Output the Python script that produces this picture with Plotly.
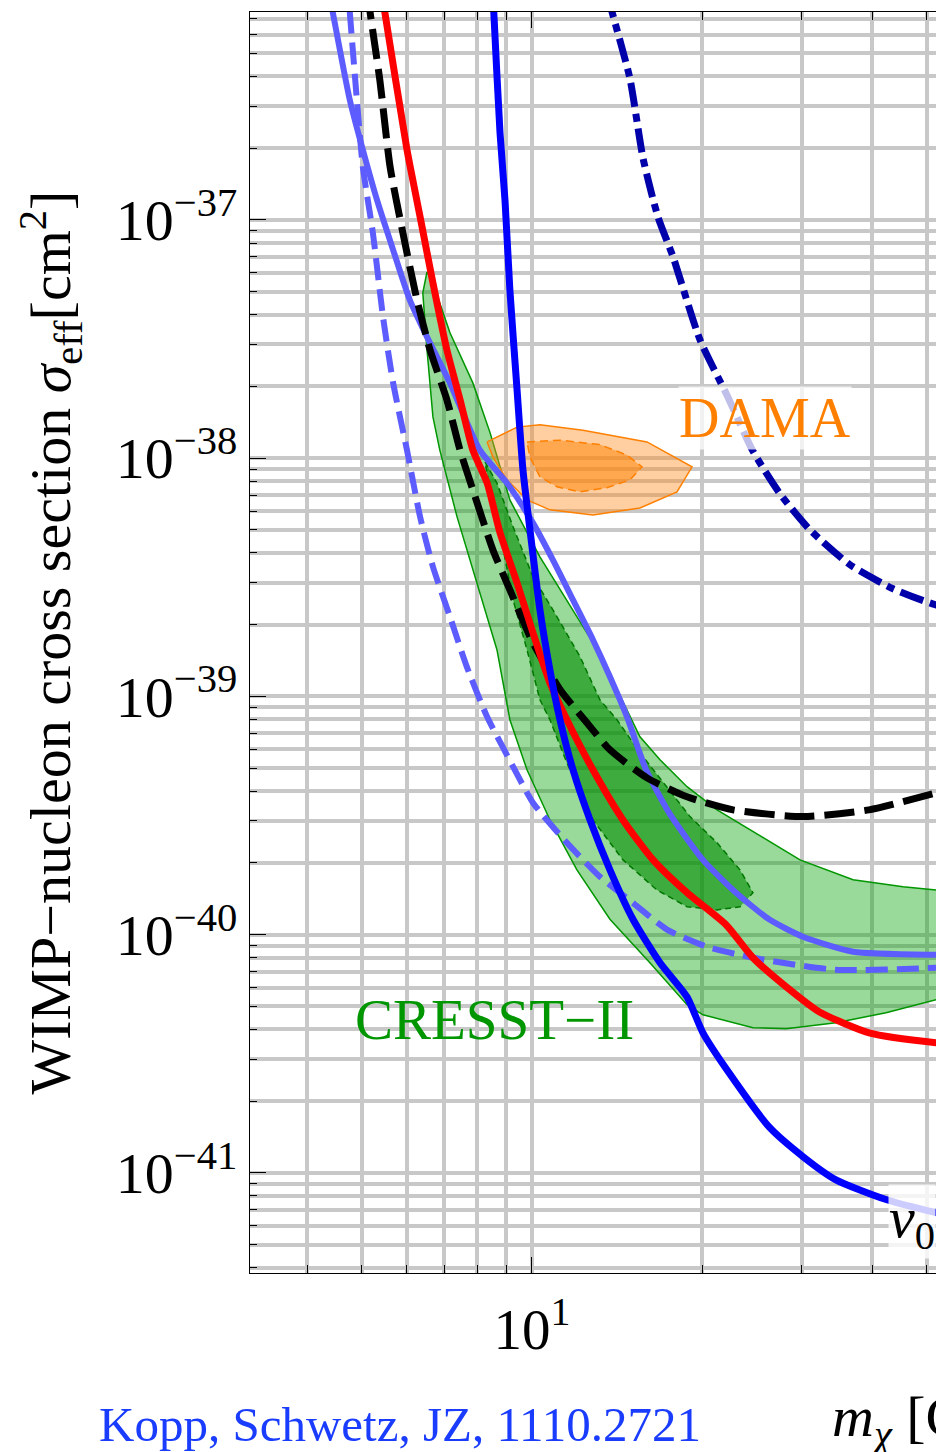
import math
import plotly.graph_objects as go

FONT = "Liberation Serif"

# ---------------- data (mass in GeV, cross section in cm^2) ----------------
# solid blue limit
blue_m = [8.46, 8.56, 8.78, 8.96, 9.14, 9.41, 9.64, 9.92, 10.33, 10.76, 11.21, 11.82, 12.67,
          13.74, 15.09, 16.85, 18.81, 20.07, 22.32, 26.28, 30.18, 34.51, 42.32, 51.88, 62.1]
blue_s = [1.36e-36, 7.46e-37, 2.32e-37, 1.21e-37, 5.08e-38, 1.94e-38, 8.93e-39, 5.00e-39, 2.31e-39,
          1.29e-39, 7.98e-40, 4.92e-40, 3.03e-40, 1.87e-40, 1.16e-40, 7.62e-41, 5.48e-41, 3.87e-41,
          2.63e-41, 1.56e-41, 1.17e-41, 9.35e-42, 7.73e-42, 6.81e-42, 6.24e-42]

# red limit
red_m = [5.27, 5.49, 6.01, 6.34, 6.68, 7.07, 7.46, 7.86, 8.33, 8.78, 9.41, 10.04, 10.76, 11.53,
         12.82, 14.49, 16.38, 18.81, 22.05, 24.61, 28.17, 32.21, 39.50, 51.88, 62.1]
red_s = [1.36e-36, 7.46e-37, 1.97e-37, 1.03e-37, 5.44e-38, 2.85e-38, 1.76e-38, 1.08e-38, 7.87e-39,
         4.86e-39, 3.00e-39, 1.85e-39, 1.14e-39, 7.98e-40, 4.92e-40, 3.03e-40, 2.06e-40, 1.50e-40,
         1.10e-40, 8.00e-41, 6.04e-41, 4.75e-41, 3.87e-41, 3.52e-41, 3.42e-41]

# black dashed limit
black_m = [5.00, 5.17, 5.38, 5.61, 5.91, 6.26, 6.60, 7.07, 7.46, 7.86, 8.53, 9.14, 10.04, 11.21,
           12.51, 13.74, 15.98, 18.81, 22.69, 30.18, 39.50, 51.88, 62.1]
black_s = [1.36e-36, 7.46e-37, 3.87e-37, 1.67e-37, 8.82e-38, 4.61e-38, 2.85e-38, 1.76e-38, 1.08e-38,
           7.36e-39, 4.12e-39, 2.80e-39, 1.68e-39, 1.07e-39, 7.75e-40, 5.97e-40, 4.55e-40, 3.79e-40,
           3.34e-40, 3.13e-40, 3.34e-40, 3.94e-40, 4.47e-40]

# light blue solid limit
lblue_m = [4.23, 4.44, 4.76, 5.02, 5.32, 5.68, 6.08, 6.52, 7.16, 8.09, 9.03, 10.04, 10.89, 11.82,
           12.82, 13.74, 14.73, 15.92, 17.48, 20.07, 22.97, 26.28, 30.18, 37.00, 51.88, 62.1]
lblue_s = [1.36e-36, 7.46e-37, 3.19e-37, 1.97e-37, 1.21e-37, 7.48e-38, 4.61e-38, 3.23e-38, 2.07e-38,
           1.08e-38, 7.87e-39, 5.35e-39, 3.74e-39, 2.54e-39, 1.73e-39, 1.21e-39, 8.21e-40, 4.92e-40,
           3.25e-40, 2.06e-40, 1.50e-40, 1.16e-40, 9.80e-41, 8.48e-41, 8.23e-41, 8.23e-41]

# light blue dashed limit
lbdash_m = [4.67, 4.76, 4.90, 5.02, 5.23, 5.45, 5.68, 6.01, 6.34, 6.68, 7.16, 7.67, 8.33, 8.89,
            9.26, 10.04, 11.53, 13.19, 15.09, 17.34, 20.40, 24.61, 34.51, 51.88, 62.1]
lbdash_s = [1.36e-36, 7.46e-37, 3.19e-37, 1.67e-37, 8.82e-38, 3.92e-38, 2.07e-38, 1.08e-38, 5.67e-39,
            3.50e-39, 2.16e-39, 1.33e-39, 8.21e-40, 6.09e-40, 5.07e-40, 3.58e-40, 2.43e-40, 1.75e-40,
            1.36e-40, 1.05e-40, 8.90e-41, 8.00e-41, 7.12e-41, 7.26e-41, 7.40e-41]

# dark blue dash-dot limit
navy_m = [12.93, 13.86, 14.91, 15.72, 16.71, 17.77, 19.83, 22.13, 24.61, 27.48, 31.05, 36.54,
          43.55, 51.88, 62.1]
navy_s = [1.36e-36, 7.46e-37, 3.91e-37, 1.82e-37, 1.03e-37, 7.00e-38, 3.14e-38, 1.84e-38, 1.07e-38,
          7.08e-39, 5.00e-39, 3.57e-39, 2.83e-39, 2.42e-39, 2.20e-39]

# CRESST-II regions
cresst_out_m = [6.52, 6.65, 7.16, 7.86, 8.43, 9.14, 10.33, 11.53, 12.82, 14.14, 15.53, 16.85, 18.81,
                21.26, 24.31, 29.81, 37.00, 45.37, 51.88, 64.7, 64.7, 51.88, 42.32, 34.51, 28.17,
                24.61, 20.07, 18.81, 16.17, 13.74, 12.01, 10.76, 9.80, 9.14, 8.67, 7.99, 7.37, 6.87,
                6.68, 6.52, 6.41, 6.52]
cresst_out_s = [6.05e-38, 5.60e-38, 3.36e-38, 2.07e-38, 1.28e-38, 6.68e-39, 3.85e-39, 2.54e-39,
                1.68e-39, 1.07e-39, 6.77e-40, 5.42e-40, 4.18e-40, 3.34e-40, 2.76e-40, 2.06e-40,
                1.70e-40, 1.59e-40, 1.54e-40, 1.52e-40, 5.87e-41, 5.33e-41, 4.70e-41, 4.27e-41,
                4.03e-41, 4.07e-41, 4.61e-41, 5.08e-41, 7.62e-41, 1.16e-40, 1.87e-40, 3.03e-40,
                4.92e-40, 7.98e-40, 1.57e-39, 3.00e-39, 5.67e-39, 1.08e-38, 1.49e-38, 2.85e-38,
                4.94e-38, 6.05e-38]
cresst_in_m = [8.26, 8.67, 9.26, 10.04, 10.89, 12.16, 13.19, 14.14, 15.53, 17.34, 19.04, 21.26,
               23.34, 24.61, 23.34, 21.26, 18.81, 16.64, 14.49, 12.82, 11.53, 10.76, 10.33, 9.80,
               9.26, 8.78, 8.43, 8.26]
cresst_in_s = [9.65e-39, 7.87e-39, 5.15e-39, 3.18e-39, 2.31e-39, 1.47e-39, 9.68e-40, 7.98e-40,
               5.80e-40, 4.18e-40, 3.13e-40, 2.43e-40, 1.87e-40, 1.50e-40, 1.31e-40, 1.27e-40,
               1.31e-40, 1.54e-40, 2.06e-40, 3.03e-40, 5.26e-40, 7.98e-40, 9.68e-40, 1.57e-39,
               2.54e-39, 4.86e-39, 7.36e-39, 9.65e-39]

# DAMA regions
dama_out_m = [8.33, 9.41, 10.33, 12.31, 15.98, 19.20, 18.06, 15.53, 12.82, 10.76, 9.80, 9.03, 8.53, 8.33]
dama_out_s = [1.17e-38, 1.35e-38, 1.38e-38, 1.31e-38, 1.17e-38, 9.19e-39, 7.22e-39, 6.18e-39,
              5.78e-39, 6.07e-39, 6.68e-39, 8.11e-39, 1.01e-38, 1.17e-38]
dama_in_m = [9.80, 11.21, 13.19, 14.73, 15.66, 14.91, 13.57, 12.16, 11.07, 10.33, 9.92, 9.80]
dama_in_s = [1.17e-38, 1.19e-38, 1.14e-38, 1.03e-38, 9.19e-39, 8.11e-39, 7.51e-39, 7.22e-39,
             7.58e-39, 8.35e-39, 1.01e-38, 1.17e-38]

# axes
x_range = [3.17, 51.88]
y_range = [3.80e-42, 7.46e-37]
x_major = [10]
x_major_text = ["10<sup>1</sup>"]
x_minor = [4, 5, 6, 7, 8, 9, 20, 30, 40, 50]
y_major = [1e-41, 1e-40, 1e-39, 1e-38, 1e-37]
y_major_text = ["10<sup>−41</sup>", "10<sup>−40</sup>", "10<sup>−39</sup>",
                "10<sup>−38</sup>", "10<sup>−37</sup>"]
y_minor = [k * 10.0 ** e for e in range(-42, -36) for k in range(2, 10)]

# ---------------- figure ----------------
fig = go.Figure()

def region(m, s, fill, edge, dash):
    fig.add_trace(go.Scatter(x=m, y=s, mode="lines", fill="toself", fillcolor=fill,
                             line=dict(color=edge, width=1.5, dash=dash),
                             hoverinfo="skip", showlegend=False))

region(cresst_out_m, cresst_out_s, "rgba(0,160,0,0.40)", "rgb(0,150,0)", "solid")
region(cresst_in_m, cresst_in_s, "rgba(0,140,0,0.60)", "rgb(0,120,0)", "6px,4px")
region(dama_out_m, dama_out_s, "rgba(255,140,30,0.42)", "rgb(255,128,0)", "solid")
region(dama_in_m, dama_in_s, "rgba(255,130,0,0.50)", "rgb(255,128,0)", "8px,5px")

def curve(m, s, color, width, dash):
    fig.add_trace(go.Scatter(x=m, y=s, mode="lines", line=dict(color=color, width=width,
                             dash=dash, shape="spline", smoothing=0.6),
                             hoverinfo="skip", showlegend=False))

curve(lbdash_m, lbdash_s, "rgb(92,92,255)", 6, "22px,9px")
curve(lblue_m, lblue_s, "rgb(92,92,255)", 6, "solid")
curve(black_m, black_s, "black", 7, "30px,10px")
curve(red_m, red_s, "rgb(255,0,0)", 7, "solid")
curve(blue_m, blue_s, "rgb(0,0,255)", 7, "solid")
curve(navy_m, navy_s, "rgb(0,0,170)", 7, "24px,7px,8px,7px")

grid = "#c8c8c8"
fig.update_xaxes(type="log", range=[math.log10(x_range[0]), math.log10(x_range[1])],
                 tickmode="array", tickvals=x_major, ticktext=x_major_text,
                 ticks="inside", ticklen=16, tickwidth=1, tickcolor="black",
                 showline=True, linecolor="black", linewidth=1.2, mirror="ticks",
                 showgrid=True, gridcolor=grid, gridwidth=3.5, zeroline=False,
                 tickfont=dict(family=FONT, size=57, color="black"),
                 ticklabelstandoff=6,
                 minor=dict(tickmode="array", tickvals=x_minor, ticks="inside", ticklen=8,
                            tickcolor="black", tickwidth=1, showgrid=True,
                            gridcolor=grid, gridwidth=3.5))
fig.update_yaxes(type="log", range=[math.log10(y_range[0]), math.log10(y_range[1])],
                 tickmode="array", tickvals=y_major, ticktext=y_major_text,
                 ticks="inside", ticklen=16, tickwidth=1, tickcolor="black",
                 showline=True, linecolor="black", linewidth=1.2, mirror=False,
                 showgrid=True, gridcolor=grid, gridwidth=3.5, zeroline=False,
                 tickfont=dict(family=FONT, size=58, color="black"),
                 ticklabelstandoff=0,
                 minor=dict(tickmode="array", tickvals=y_minor, ticks="inside", ticklen=7,
                            tickcolor="black", tickwidth=1, showgrid=True,
                            gridcolor=grid, gridwidth=3.5))

def lx(m):
    return math.log10(m)

annotations = [
    dict(text="WIMP−nucleon cross section <i>σ</i><sub>eff</sub>[cm<sup>2</sup>]",
         xref="paper", yref="paper", x=-0.2915, y=0.5, textangle=-90, showarrow=False,
         xanchor="center", yanchor="middle", font=dict(family=FONT, size=58, color="black")),
    dict(text="DAMA", xref="x", yref="y", x=lx(25.8), y=-37.831, showarrow=False,
         font=dict(family=FONT, size=56, color="rgb(255,128,0)"),
         bgcolor="rgba(255,255,255,0.75)", borderpad=0),
    dict(text="CRESST−II", xref="x", yref="y", x=lx(8.6), y=-40.357, showarrow=False,
         font=dict(family=FONT, size=57, color="rgb(0,150,0)")),
    dict(text="<i>v</i><sub>0</sub>", xref="paper", yref="y", x=0.930, y=-41.205,
         xanchor="left", showarrow=False, font=dict(family=FONT, size=58, color="black"),
         bgcolor="rgba(255,255,255,0.8)", borderpad=0),
    dict(text="<i>m</i><sub><i>χ</i></sub> [GeV]", xref="paper", yref="paper",
         x=0.8455, y=-0.1166, xanchor="left", yanchor="middle", showarrow=False,
         font=dict(family=FONT, size=58, color="black")),
    dict(text="Kopp, Schwetz, JZ, 1110.2721", xref="paper", yref="paper",
         x=0.2187, y=-0.1205, xanchor="center", yanchor="middle", showarrow=False,
         font=dict(family=FONT, size=49, color="rgb(25,60,255)")),
]

fig.update_layout(width=936, height=1452, autosize=False,
                  margin=dict(l=250, r=0, t=12, b=179, pad=0),
                  paper_bgcolor="white", plot_bgcolor="white",
                  showlegend=False, annotations=annotations)

fig.write_html("out.html")
